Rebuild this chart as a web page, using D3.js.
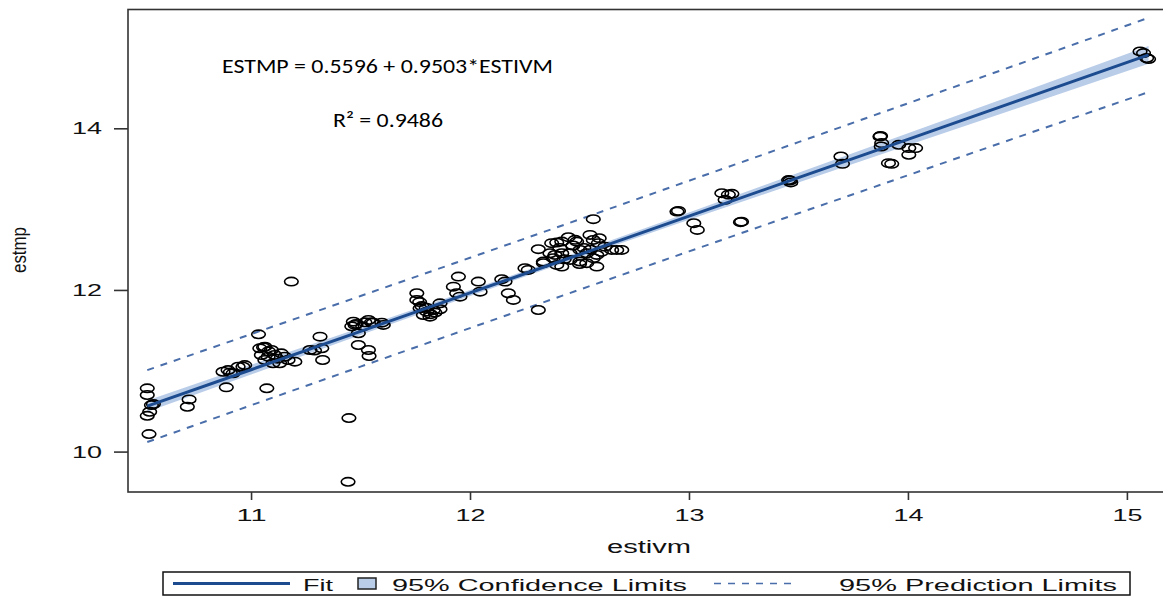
<!DOCTYPE html>
<html>
<head>
<meta charset="utf-8">
<script src="https://cdn.jsdelivr.net/npm/d3@7"></script>
<style>
	body {margin:0; background:#fff;}
	svg {display:block;}
	.sas {font-family:'Liberation Sans', Arial, sans-serif; fill:#111;}
</style>
</head>
<body>
<div id="chart"></div>
<script>
//Observed points (estivm, estmp)
var estivm = [10.526,10.526,10.545,10.537,10.526,10.534,10.554,10.717,10.709,10.872,10.895,10.918,10.941,10.963,10.971,10.887,10.905,
	11.034,11.057,11.040,11.063,11.093,11.047,11.078,11.108,11.138,11.154,11.169,11.200,11.100,11.131,11.063,11.080,11.120,11.072,11.184,
	11.269,11.290,11.315,11.323,11.327,11.447,11.443,11.467,11.475,11.536,11.558,11.597,11.604,11.490,11.490,11.536,11.539,11.480,11.510,11.550,11.460,11.520,
	11.757,11.757,11.772,11.802,11.817,11.832,11.863,11.863,11.787,11.780,11.800,11.840,11.770,11.820,
	11.924,11.947,11.939,11.954,12.038,12.046,12.145,12.160,12.175,12.198,12.312,12.251,12.266,
	12.312,12.335,12.335,12.373,12.396,12.419,12.449,12.487,12.548,12.563,12.586,12.616,12.647,12.670,12.693,
	12.365,12.388,12.419,12.457,12.502,12.533,12.579,12.396,12.419,12.502,12.563,12.579,12.457,12.533,12.563,
	12.380,12.470,12.520,12.600,12.430,12.500,12.480,12.550,12.410,12.590,
	12.952,12.945,13.022,13.038,13.150,13.196,13.165,13.180,13.235,13.240,13.461,13.455,13.465,13.694,13.701,
	13.872,13.875,13.880,13.878,13.911,13.926,13.958,14.004,14.035,14.004,15.060,15.076,15.099,15.090];
var estmp = [10.783,10.700,10.576,10.493,10.443,10.217,10.588,10.646,10.555,10.988,11.009,10.968,11.050,11.050,11.071,10.795,10.980,
	11.451,11.290,11.278,11.298,11.257,11.195,11.174,11.195,11.216,11.174,11.133,11.112,11.092,11.092,11.133,11.240,11.150,10.783,12.103,
	11.257,11.250,11.422,11.278,11.133,10.415,9.626,11.607,11.567,11.628,11.595,11.595,11.567,11.464,11.319,11.257,11.183,11.580,11.550,11.600,11.550,11.600,
	11.959,11.876,11.773,11.731,11.669,11.752,11.835,11.761,11.690,11.800,11.780,11.720,11.850,11.700,
	12.041,12.165,11.959,11.917,12.103,11.979,12.133,12.103,11.959,11.876,11.752,12.269,12.248,
	12.504,12.351,12.331,12.579,12.586,12.598,12.653,12.598,12.681,12.619,12.579,12.536,12.495,12.495,12.495,
	12.454,12.433,12.454,12.454,12.495,12.454,12.433,12.310,12.289,12.351,12.393,12.289,12.372,12.331,12.876,
	12.393,12.550,12.520,12.470,12.380,12.320,12.620,12.500,12.520,12.640,
	12.978,12.970,12.826,12.743,13.197,13.189,13.115,13.180,12.838,12.845,13.354,13.360,13.330,13.651,13.560,
	13.898,13.905,13.817,13.775,13.569,13.560,13.796,13.755,13.755,13.672,14.951,14.931,14.857,14.870];

//Fit, confidence and prediction limits read at these estivm values
var bandX = [10.526, 11, 11.5, 12, 12.5, 13, 13.5, 14, 14.5, 15.099];
var fitY = [10.562, 11.013, 11.488, 11.963, 12.438, 12.914, 13.389, 13.864, 14.339, 14.908];
var ciLower = [10.493, 10.953, 11.443, 11.926, 12.401, 12.869, 13.329, 13.789, 14.249, 14.798];
var ciUpper = [10.632, 11.073, 11.533, 12.000, 12.475, 12.959, 13.449, 13.939, 14.429, 15.018];
var piLower = [10.118, 10.573, 11.051, 11.528, 12.003, 12.477, 12.949, 13.419, 13.889, 14.448];
var piUpper = [11.008, 11.453, 11.925, 12.398, 12.873, 13.351, 13.829, 14.309, 14.789, 15.368];

var xTicks = [11, 12, 13, 14, 15];
var yTicks = [10, 12, 14];
var equationText = "ESTMP = 0.5596 + 0.9503*ESTIVM";
var rsqText = "R\u00B2 = 0.9486";
var legendLabels = ["Fit", "95% Confidence Limits", "95% Prediction Limits"];

//Colours
var FIT_COLOR = "#1d4b8f";
var BAND_COLOR = "#b9cde9";
var PRED_COLOR = "#4a6eaa";

var width = 1163, height = 596;
var plot = {left: 128, top: 9.5, right: 1165, bottom: 492};

var svg = d3.select('#chart').append('svg')
	.attr('width', width)
	.attr('height', height);

var x = d3.scaleLinear().domain([10.438, 15.174]).range([plot.left, plot.right]);
var y = d3.scaleLinear().domain([9.5, 15.47]).range([plot.bottom, plot.top]);

svg.append('clipPath').attr('id', 'clip')
	.append('rect')
		.attr('x', plot.left).attr('y', plot.top)
		.attr('width', plot.right - plot.left).attr('height', plot.bottom - plot.top);

var bands = bandX.map(function(d, i) {
	return {x: d, fit: fitY[i], cl: ciLower[i], cu: ciUpper[i], pl: piLower[i], pu: piUpper[i]};
});

var g = svg.append('g').attr('clip-path', 'url(#clip)');

//Confidence band
g.append('path')
	.datum(bands)
	.attr('fill', BAND_COLOR)
	.attr('d', d3.area()
		.x(function(d) {return x(d.x);})
		.y0(function(d) {return y(d.cl);})
		.y1(function(d) {return y(d.cu);}));

//Prediction limits
['pl', 'pu'].forEach(function(k) {
	g.append('path')
		.datum(bands)
		.attr('fill', 'none')
		.attr('stroke', PRED_COLOR)
		.attr('stroke-width', 2)
		.attr('stroke-dasharray', '7,7')
		.attr('d', d3.line()
			.x(function(d) {return x(d.x);})
			.y(function(d) {return y(d[k]);}));
});

//Points
g.selectAll('ellipse.pt')
	.data(estivm)
	.enter().append('ellipse')
		.attr('class', 'pt')
		.attr('cx', function(d) {return x(d);})
		.attr('cy', function(d, i) {return y(estmp[i]);})
		.attr('rx', 6.8)
		.attr('ry', 4.2)
		.attr('fill', 'none')
		.attr('stroke', '#000')
		.attr('stroke-width', 1.6);

//Fit line
g.append('path')
	.datum(bands)
	.attr('fill', 'none')
	.attr('stroke', FIT_COLOR)
	.attr('stroke-width', 3)
	.attr('d', d3.line()
		.x(function(d) {return x(d.x);})
		.y(function(d) {return y(d.fit);}));

//Frame
svg.append('rect')
	.attr('x', plot.left).attr('y', plot.top)
	.attr('width', plot.right - plot.left).attr('height', plot.bottom - plot.top)
	.attr('fill', 'none')
	.attr('stroke', '#333')
	.attr('stroke-width', 1.6);

//Axes
var xAxis = svg.append('g')
	.attr('transform', 'translate(0,' + plot.bottom + ')')
	.call(d3.axisBottom(x).tickValues(xTicks).tickSize(8).tickPadding(14).tickFormat(d3.format('d')));
var yAxis = svg.append('g')
	.attr('transform', 'translate(' + plot.left + ',0)')
	.call(d3.axisLeft(y).tickValues(yTicks).tickSize(14).tickPadding(12).tickFormat(d3.format('d')));
[xAxis, yAxis].forEach(function(a) {
	a.select('.domain').remove();
	a.selectAll('line').attr('stroke', '#333').attr('stroke-width', 1.6);
	a.selectAll('text')
		.attr('class', 'sas')
		.style('font-size', '17px')
		.attr('textLength', 30)
		.attr('lengthAdjust', 'spacingAndGlyphs');
});
xAxis.selectAll('text').attr('dy', '0.71em').attr('y', 17);

//Axis titles
svg.append('text')
	.attr('class', 'sas')
	.attr('x', 649).attr('y', 553)
	.attr('text-anchor', 'middle')
	.style('font-size', '18px')
	.attr('textLength', 84)
	.attr('lengthAdjust', 'spacingAndGlyphs')
	.text('estivm');
svg.append('text')
	.attr('class', 'sas')
	.attr('transform', 'translate(26,250) rotate(-90)')
	.attr('text-anchor', 'middle')
	.style('font-size', '20px')
	.attr('textLength', 46)
	.attr('lengthAdjust', 'spacingAndGlyphs')
	.text('estmp');

//Equation annotation
svg.append('text')
	.attr('x', 222).attr('y', 73)
	.style('font-family', "Carlito, Calibri, 'Open Sans', sans-serif")
	.style('font-size', '21px')
	.attr('textLength', 331)
	.attr('lengthAdjust', 'spacingAndGlyphs')
	.text(equationText);
svg.append('text')
	.attr('x', 333).attr('y', 127)
	.style('font-family', "Carlito, Calibri, 'Open Sans', sans-serif")
	.style('font-size', '21px')
	.attr('textLength', 110)
	.attr('lengthAdjust', 'spacingAndGlyphs')
	.text(rsqText);

//Legend
var legend = svg.append('g');
legend.append('rect')
	.attr('x', 163).attr('y', 572)
	.attr('width', 967).attr('height', 23)
	.attr('fill', '#fff')
	.attr('stroke', '#111')
	.attr('stroke-width', 1.5);
legend.append('line')
	.attr('x1', 173).attr('x2', 290).attr('y1', 583.5).attr('y2', 583.5)
	.attr('stroke', FIT_COLOR).attr('stroke-width', 3);
legend.append('rect')
	.attr('x', 358).attr('y', 578)
	.attr('width', 18).attr('height', 11)
	.attr('fill', BAND_COLOR)
	.attr('stroke', '#222')
	.attr('stroke-width', 1.5);
legend.append('line')
	.attr('x1', 714).attr('x2', 798).attr('y1', 583.5).attr('y2', 583.5)
	.attr('stroke', PRED_COLOR).attr('stroke-width', 1.5)
	.attr('stroke-dasharray', '7,7');
var legendPos = [{x: 303, w: 30}, {x: 392, w: 295}, {x: 839, w: 278}];
legend.selectAll('text')
	.data(legendLabels)
	.enter().append('text')
		.attr('class', 'sas')
		.attr('x', function(d, i) {return legendPos[i].x;})
		.attr('y', 590.5)
		.style('font-size', '17px')
		.attr('textLength', function(d, i) {return legendPos[i].w;})
		.attr('lengthAdjust', 'spacingAndGlyphs')
		.text(function(d) {return d;});
</script>
</body>
</html>
